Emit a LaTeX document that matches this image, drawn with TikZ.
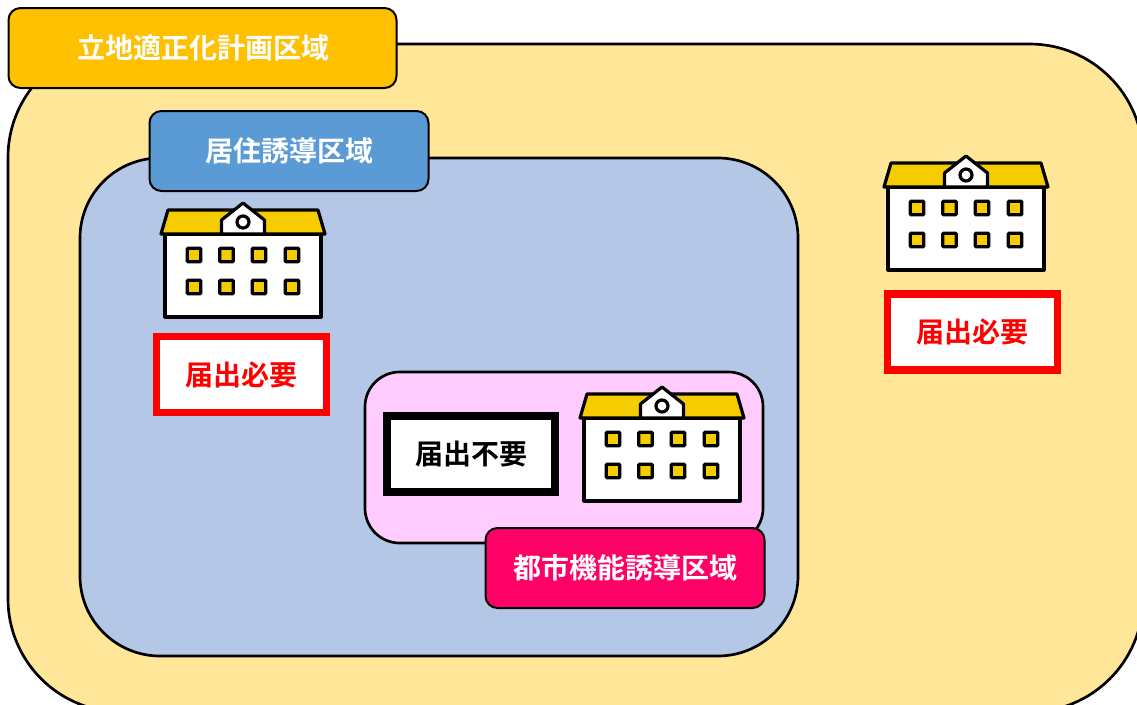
\documentclass[tikz,border=0pt]{standalone}
\usepackage{fontspec}
\setmainfont{Noto Sans CJK JP}[BoldFont={Noto Sans CJK JP Bold}]
\definecolor{areaY}{HTML}{FFE699}
\definecolor{areaB}{HTML}{B4C7E7}
\definecolor{areaP}{HTML}{FFCCFF}
\definecolor{tagY}{HTML}{FFC000}
\definecolor{tagB}{HTML}{5B9BD5}
\definecolor{tagP}{HTML}{FF0066}
\definecolor{roofY}{HTML}{F4CC00}
\tikzset{
  area/.style={draw=black,line width=2pt,rounded corners=#1},
  tag/.style={draw=black,line width=1.5pt,rounded corners=12*0.75pt,text=white,font=\fontsize{21pt}{24pt}\selectfont\bfseries,
    minimum width=#1*0.75pt,minimum height=80*0.75pt,inner sep=0pt},
  notice/.style={fill=white,line width=5.5pt,font=\fontsize{21pt}{24pt}\selectfont\bfseries,
    minimum width=170*0.75pt,minimum height=76*0.75pt,inner sep=0pt},
  bline/.style={draw=black,line width=2.4pt,line join=round},
  win/.style={fill=roofY,draw=black,line width=2.4pt,rounded corners=0.8pt},
  pics/school/.style={code={
    \fill[white,bline] (-78,0) rectangle (78,83);
    \fill[roofY,bline] (-82,0) -- (-75,-24) -- (75,-24) -- (82,0) -- cycle;
    \fill[white,bline] (-21.5,0) -- (-21.5,-14) -- (0,-31) -- (21.5,-14) -- (21.5,0) -- cycle;
    \draw[bline,fill=white] (0,-12) circle (6);
    \foreach \wx in {-49,-16.5,16,49}\foreach \wy in {21,53}
      \draw[win] (\wx-6.8,\wy-6.8) rectangle (\wx+6.8,\wy+6.8);
  }}
}
\begin{document}
\begin{tikzpicture}[x=0.75pt,y=-0.75pt]
\useasboundingbox (0,0) rectangle (1137,704);
\clip (0,0) rectangle (1137,704);
\fill[white] (0,0) rectangle (1137,704);
\draw[area=85,fill=areaY] (8,44) rectangle (1143,712);
\draw[area=60,fill=areaB] (80,158) rectangle (798,656);
\draw[area=26,fill=areaP] (365,372) rectangle (763,543);
\node[tag=388,fill=tagY] (plan) at (202.5,48) {\hspace{1.2pt}\raisebox{-0.75pt}{立地適正化計画区域}};
\node[tag=279,fill=tagB] (resid) at (289,151) {\raisebox{-0.75pt}{居住誘導区域}};
\node[tag=279,fill=tagP] (urban) at (625,568) {\raisebox{0.75pt}{都市機能誘導区域}};
\pic at (243,234) {school};
\pic at (966,187) {school};
\pic at (662,418) {school};
\node[notice,draw=red,text=red] (n1) at (241.5,374.5) {\raisebox{0.4pt}{届出必要}};
\node[notice,draw=red,text=red] (n2) at (972.5,332) {届出必要};
\node[notice,draw=black,text=black,line width=6.3pt,minimum width=167.5*0.75pt,minimum height=75.5*0.75pt] (n3) at (471,454) {届出不要};
\end{tikzpicture}
\end{document}
